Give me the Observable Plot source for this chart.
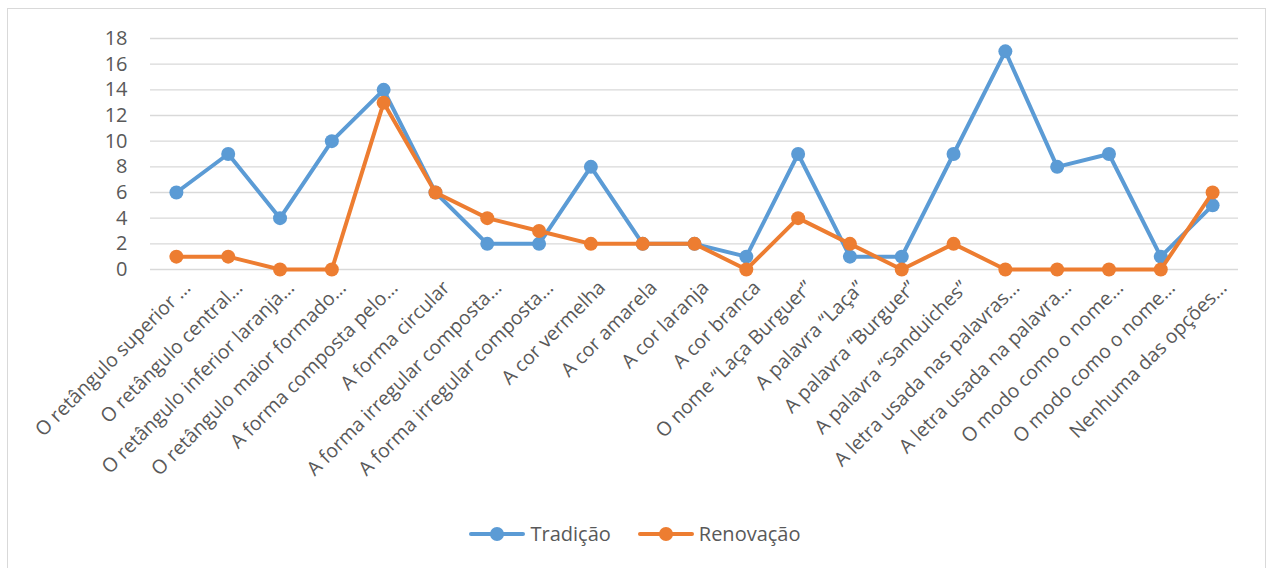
<!DOCTYPE html>
<html><head><meta charset="utf-8">
<script src="https://cdn.jsdelivr.net/npm/d3@7"></script>
<script src="https://cdn.jsdelivr.net/npm/@observablehq/plot@0.6"></script>
<style>
body{margin:0;background:#fff;font-family:"Open Sans",sans-serif;}
#frame{position:absolute;left:7px;top:8px;width:1259px;height:600px;border:1.5px solid #d9d9d9;box-sizing:border-box;}
#chart{position:absolute;left:0;top:0;}
#legend{position:absolute;top:520px;left:0;width:1270px;display:flex;justify-content:center;align-items:center;gap:27px;font-size:20px;color:#595959;}
.item{display:flex;align-items:center;gap:5px;}
</style></head><body>
<div id="frame"></div><div id="chart"></div><div id="legend"></div>
<script>
const categories = [
  "O retângulo superior …",
  "O retângulo central…",
  "O retângulo inferior laranja…",
  "O retângulo maior formado…",
  "A forma composta pelo…",
  "A forma circular",
  "A forma irregular composta…",
  "A forma irregular composta…",
  "A cor vermelha",
  "A cor amarela",
  "A cor laranja",
  "A cor branca",
  "O nome “Laça Burguer”",
  "A palavra “Laça”",
  "A palavra “Burguer”",
  "A palavra “Sanduiches”",
  "A letra usada nas palavras…",
  "A letra usada na palavra…",
  "O modo como o nome…",
  "O modo como o nome…",
  "Nenhuma das opções…"
];
const tradicao  = [6, 9, 4, 10, 14, 6, 2, 2, 8, 2, 2, 1, 9, 1, 1, 9, 17, 8, 9, 1, 5];
const renovacao = [1, 1, 0, 0, 13, 6, 4, 3, 2, 2, 2, 0, 4, 2, 0, 2, 0, 0, 0, 0, 6];
const seriesNames = ["Tradição", "Renovação"];
const seriesColors = ["#5b9bd5", "#ed7d31"];
const yTicks = [0, 2, 4, 6, 8, 10, 12, 14, 16, 18];

const rows = [];
[tradicao, renovacao].forEach((vals, k) => vals.forEach((v, i) => rows.push({series: seriesNames[k], i, value: v})));

const seriesMarks = [];
seriesNames.forEach((s, k) => {
  const d = rows.filter(r => r.series === s);
  seriesMarks.push(Plot.line(d, {x: "i", y: "value", stroke: seriesColors[k], strokeWidth: 4, strokeLinejoin: "round", strokeLinecap: "round"}));
  seriesMarks.push(Plot.dot(d, {x: "i", y: "value", r: 7, fill: seriesColors[k], stroke: "none"}));
});

const chart = Plot.plot({
  width: 1270,
  height: 500,
  marginLeft: 150,
  marginRight: 32,
  marginTop: 38,
  marginBottom: 231,
  style: {fontFamily: "Open Sans", fontSize: "20px", color: "#595959", overflow: "visible", background: "transparent"},
  x: {type: "point", domain: d3.range(categories.length), padding: 0.5, round: false},
  y: {domain: [0, 18]},
  marks: [
    Plot.gridY(yTicks, {stroke: "#d9d9d9", strokeOpacity: 1, strokeWidth: 1.4}),
    Plot.axisY(yTicks, {tickSize: 0, tickPadding: 23, fontSize: 20, fill: "#595959", label: null}),
    Plot.axisX({tickRotate: -45, tickSize: 0, tickPadding: 15, dx: 11, tickFormat: i => categories[i], fontSize: 19.5, fill: "#595959", label: null}),
    ...seriesMarks
  ]
});
document.getElementById("chart").appendChild(chart);

const legend = document.getElementById("legend");
seriesNames.forEach((s, k) => {
  const item = document.createElement("div");
  item.className = "item";
  item.innerHTML = `<svg width="56" height="16"><line x1="2" y1="8" x2="54" y2="8" stroke="${seriesColors[k]}" stroke-width="4" stroke-linecap="round"/><circle cx="28" cy="8" r="7" fill="${seriesColors[k]}"/></svg><span>${s}</span>`;
  legend.appendChild(item);
});
</script>
</body></html>
